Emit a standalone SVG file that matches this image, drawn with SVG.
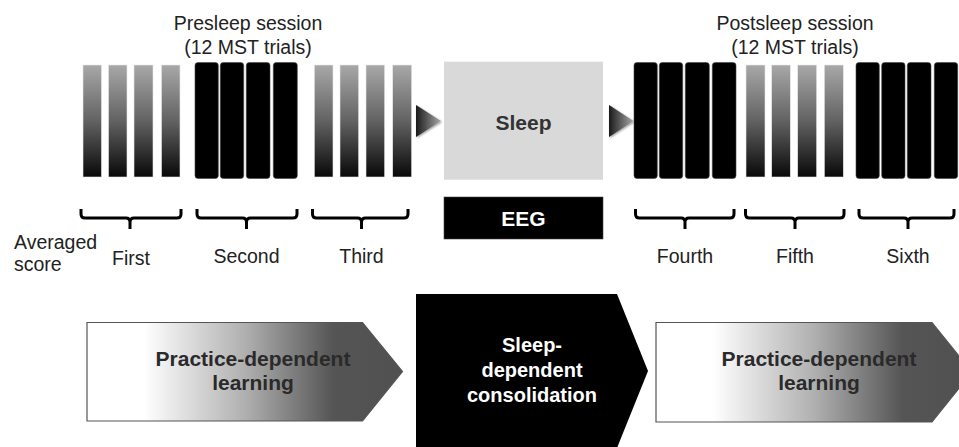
<svg xmlns="http://www.w3.org/2000/svg" width="959" height="447" viewBox="0 0 959 447">
<defs>
<linearGradient id="barGrad" x1="0" y1="0" x2="0" y2="1">
<stop offset="0" stop-color="#a8a8a8"/>
<stop offset="0.5" stop-color="#626262"/>
<stop offset="1" stop-color="#080808"/>
</linearGradient>
<linearGradient id="triGrad" x1="0" y1="0" x2="1" y2="0">
<stop offset="0" stop-color="#1a1a1a"/>
<stop offset="1" stop-color="#a8a8a8"/>
</linearGradient>
<linearGradient id="chevGrad" x1="0" y1="0" x2="1" y2="0">
<stop offset="0" stop-color="#ffffff"/>
<stop offset="0.18" stop-color="#ffffff"/>
<stop offset="0.5" stop-color="#b0b0b0"/>
<stop offset="0.78" stop-color="#555555"/>
<stop offset="1" stop-color="#505050"/>
</linearGradient>
<filter id="sh" x="-30%" y="-30%" width="160%" height="160%">
<feGaussianBlur in="SourceAlpha" stdDeviation="1.2"/>
<feOffset dx="1" dy="1" result="b"/>
<feComponentTransfer><feFuncA type="linear" slope="0.4"/></feComponentTransfer>
<feMerge><feMergeNode/><feMergeNode in="SourceGraphic"/></feMerge>
</filter>
</defs>
<style>
.lbl{font-family:"Liberation Sans",Arial,sans-serif;font-size:19.5px;fill:#222;}
.bold{font-family:"Liberation Sans",Arial,sans-serif;font-size:21px;font-weight:bold;}
.mid{font-size:20px;}
.gbar{fill:url(#barGrad);stroke:#e8e8e8;stroke-width:0.6;}
.kbar{fill:#000;stroke:#444;stroke-width:0.6;}
.brace{fill:none;stroke:#000;stroke-width:3;stroke-linejoin:round;}
.tri{fill:url(#triGrad);filter:url(#sh);}
.chev{fill:url(#chevGrad);stroke:#555;stroke-width:1.2;}
</style>

<g id="presleep-title">
<text class="lbl" x="248" y="30" text-anchor="middle">Presleep session</text>
<text class="lbl" x="248" y="54" text-anchor="middle">(12 MST trials)</text>
</g>
<g id="postsleep-title">
<text class="lbl" x="795" y="30" text-anchor="middle">Postsleep session</text>
<text class="lbl" x="795" y="54" text-anchor="middle">(12 MST trials)</text>
</g>

<g id="block-first">
<rect class="gbar" x="83" y="65" width="18.5" height="112"/>
<rect class="gbar" x="108.5" y="65" width="18.5" height="112"/>
<rect class="gbar" x="134" y="65" width="19" height="112"/>
<rect class="gbar" x="161.5" y="65" width="18.5" height="112"/>
</g>
<g id="block-second">
<rect class="kbar" x="195" y="62.5" width="23.3" height="116" rx="3"/>
<rect class="kbar" x="220.3" y="62.5" width="23.4" height="116" rx="3"/>
<rect class="kbar" x="246.3" y="62.5" width="23.7" height="116" rx="3"/>
<rect class="kbar" x="273.3" y="62.5" width="24" height="116" rx="3"/>
</g>
<g id="block-third">
<rect class="gbar" x="314.3" y="65" width="18.7" height="112"/>
<rect class="gbar" x="340" y="65" width="18.7" height="112"/>
<rect class="gbar" x="366" y="65" width="18.7" height="112"/>
<rect class="gbar" x="392.7" y="65" width="19" height="112"/>
</g>
<g id="block-fourth">
<rect class="kbar" x="634" y="62.5" width="23.3" height="116" rx="3"/>
<rect class="kbar" x="659.3" y="62.5" width="23.4" height="116" rx="3"/>
<rect class="kbar" x="685.3" y="62.5" width="24" height="116" rx="3"/>
<rect class="kbar" x="712.3" y="62.5" width="23.7" height="116" rx="3"/>
</g>
<g id="block-fifth">
<rect class="gbar" x="746" y="65" width="19" height="112"/>
<rect class="gbar" x="771.7" y="65" width="18.6" height="112"/>
<rect class="gbar" x="797.7" y="65" width="19" height="112"/>
<rect class="gbar" x="824.3" y="65" width="19" height="112"/>
</g>
<g id="block-sixth">
<rect class="kbar" x="856" y="62.5" width="23.3" height="116" rx="3"/>
<rect class="kbar" x="881.7" y="62.5" width="23.3" height="116" rx="3"/>
<rect class="kbar" x="907.3" y="62.5" width="23.7" height="116" rx="3"/>
<rect class="kbar" x="934.3" y="62.5" width="23.4" height="116" rx="3"/>
</g>

<g id="sleep">
<rect x="444" y="61.7" width="159" height="118" fill="#d9d9d9"/>
<text class="bold" x="523.5" y="130" text-anchor="middle" fill="#333">Sleep</text>
</g>
<g id="eeg">
<rect x="444" y="197" width="159" height="42" fill="#000" stroke="#444" stroke-width="0.6"/>
<text class="bold" x="523.5" y="226" text-anchor="middle" fill="#fff">EEG</text>
</g>

<g id="connectors">
<polygon class="tri" points="416,105 441,121 416,137"/>
<polygon class="tri" points="609,105 633.5,121 609,137"/>
</g>

<g id="braces">
<path class="brace" d="M81,209 L81,214 Q81,218 85,218 L126,218 Q130,218 130,222 L130,229 M130,222 Q130,218 134,218 L177,218 Q181,218 181,214 L181,209"/>
<path class="brace" d="M197,209 L197,214 Q197,218 201,218 L242.5,218 Q246.5,218 246.5,222 L246.5,229 M246.5,222 Q246.5,218 250.5,218 L293,218 Q297,218 297,214 L297,209"/>
<path class="brace" d="M312.5,209 L312.5,214 Q312.5,218 316.5,218 L357.5,218 Q361.5,218 361.5,222 L361.5,229 M361.5,222 Q361.5,218 365.5,218 L404,218 Q408,218 408,214 L408,209"/>
<path class="brace" d="M635.5,209 L635.5,214 Q635.5,218 639.5,218 L681,218 Q685,218 685,222 L685,229 M685,222 Q685,218 689,218 L730,218 Q734,218 734,214 L734,209"/>
<path class="brace" d="M745.5,209 L745.5,214 Q745.5,218 749.5,218 L791,218 Q795,218 795,222 L795,229 M795,222 Q795,218 799,218 L840,218 Q844,218 844,214 L844,209"/>
<path class="brace" d="M859,209 L859,214 Q859,218 863,218 L904,218 Q908,218 908,222 L908,229 M908,222 Q908,218 912,218 L950,218 Q954,218 954,214 L954,209"/>
</g>

<g id="labels">
<text class="lbl" x="14" y="249">Averaged</text>
<text class="lbl" x="14" y="271">score</text>
<text class="lbl" x="131" y="265" text-anchor="middle">First</text>
<text class="lbl" x="246.5" y="263" text-anchor="middle">Second</text>
<text class="lbl" x="361.5" y="263" text-anchor="middle">Third</text>
<text class="lbl" x="685" y="263" text-anchor="middle">Fourth</text>
<text class="lbl" x="795" y="263" text-anchor="middle">Fifth</text>
<text class="lbl" x="908" y="263" text-anchor="middle">Sixth</text>
</g>

<g id="practice-1">
<polygon class="chev" points="87,322.5 362.5,322.5 402.5,371.5 362.5,421 87,421"/>
<text class="bold" x="253" y="366" text-anchor="middle" fill="#2a2a2a">Practice-dependent</text>
<text class="bold" x="253" y="390" text-anchor="middle" fill="#2a2a2a">learning</text>
</g>
<g id="consolidation">
<polygon points="416,294 617,294 648,371 617,448 416,448" fill="#000"/>
<text class="bold mid" x="532" y="352" text-anchor="middle" fill="#fff">Sleep-</text>
<text class="bold mid" x="532" y="377" text-anchor="middle" fill="#fff">dependent</text>
<text class="bold mid" x="532" y="402" text-anchor="middle" fill="#fff">consolidation</text>
</g>
<g id="practice-2">
<polygon class="chev" points="656,322.5 932,322.5 972,372 932,422 656,422"/>
<text class="bold" x="819" y="366" text-anchor="middle" fill="#2a2a2a">Practice-dependent</text>
<text class="bold" x="819" y="390" text-anchor="middle" fill="#2a2a2a">learning</text>
</g>
</svg>
